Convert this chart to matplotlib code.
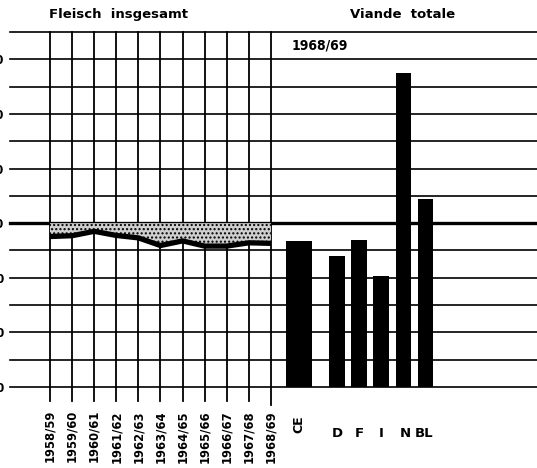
import matplotlib
matplotlib.use("Agg")
import matplotlib.pyplot as plt
import numpy as np

# self-sufficiency index, meat total (100 = bold line)
years = ["1958/59", "1959/60", "1960/61", "1961/62", "1962/63", "1963/64",
         "1964/65", "1965/66", "1966/67", "1967/68", "1968/69"]
ce_index = [95.1, 95.4, 97.0, 95.5, 94.6, 91.8, 93.5, 91.6, 91.6, 92.8, 92.6]

countries = ["CE", "D", "F", "I", "N", "BL"]
country_vals = [93.4, 87.8, 93.9, 80.7, 155.0, 108.8]

yticks = [40, 60, 80, 100, 120, 140, 160]
ybase = 40
ytop = 170

plt.rcParams['hatch.linewidth'] = 1.0

fig = plt.figure(figsize=(5.37, 4.68), dpi=100)
W, H = 537, 468
ax = fig.add_axes([10 / W, (H - 387) / H, 527 / W, 355 / H])

xpos = np.arange(len(years))
bar_pos = [11.25, 13, 14, 15, 16, 17]
bar_w = [1.18, 0.72, 0.72, 0.72, 0.72, 0.68]
label_pos = [11.25, 13, 14, 15, 16.1, 16.95]

ax.set_xlim(-1.81, 22.04)
ax.set_ylim(ybase, ytop)

# horizontal grid
for v in range(ybase, ytop + 1, 10):
    lw = 2.4 if v == 100 else 1.2
    ax.axhline(v, color="black", lw=lw, zorder=1, clip_on=False)

# vertical year lines
for i, x in enumerate(xpos):
    ymin = -0.05 if i == len(xpos) - 1 else -0.04
    ax.axvline(x, ymin=ymin, ymax=1, color="black", lw=1.3, zorder=1, clip_on=False)

# stippled gap to 100 and the CE line
ax.fill_between(xpos, ce_index, 100, facecolor="#cfcfcf", edgecolor="black",
                hatch="....", lw=0, zorder=2)
ax.plot(xpos, ce_index, color="black", lw=3.8, zorder=3, solid_capstyle="butt")

# country bars 1968/69
heights = [v - ybase for v in country_vals]
ax.bar(bar_pos, heights, width=bar_w, bottom=ybase, color="black", zorder=4)

for s in ax.spines.values():
    s.set_visible(False)
ax.set_yticks(yticks)
ax.set_yticklabels([str(t) for t in yticks], fontsize=8.5, fontweight="bold")
ax.tick_params(axis="y", length=0, pad=4)
ax.set_xticks([])

for x, lab in zip(xpos, years):
    ax.text(x, -0.065, lab, transform=ax.get_xaxis_transform(), rotation=90,
            ha="center", va="top", fontsize=8.3, fontweight="bold")

ax.text(label_pos[0], -0.08, countries[0], transform=ax.get_xaxis_transform(),
        rotation=90, ha="center", va="top", fontsize=9, fontweight="bold")
for x, lab in zip(label_pos[1:], countries[1:]):
    ax.text(x, -0.13, lab, transform=ax.get_xaxis_transform(),
            ha="center", va="center", fontsize=9.5, fontweight="bold")

ax.text(3.1, 1.048, "Fleisch  insgesamt", transform=ax.get_xaxis_transform(),
        ha="center", va="center", fontsize=9.5, fontweight="bold")
ax.text(15.97, 1.048, "Viande  totale", transform=ax.get_xaxis_transform(),
        ha="center", va="center", fontsize=9.5, fontweight="bold")
ax.text(12.2, 165.2, "1968/69", ha="center", va="center", fontsize=10,
        fontweight="bold", fontstretch="condensed",
        family=["Liberation Sans Narrow", "DejaVu Sans"])

fig.savefig("out.png", dpi=100)
